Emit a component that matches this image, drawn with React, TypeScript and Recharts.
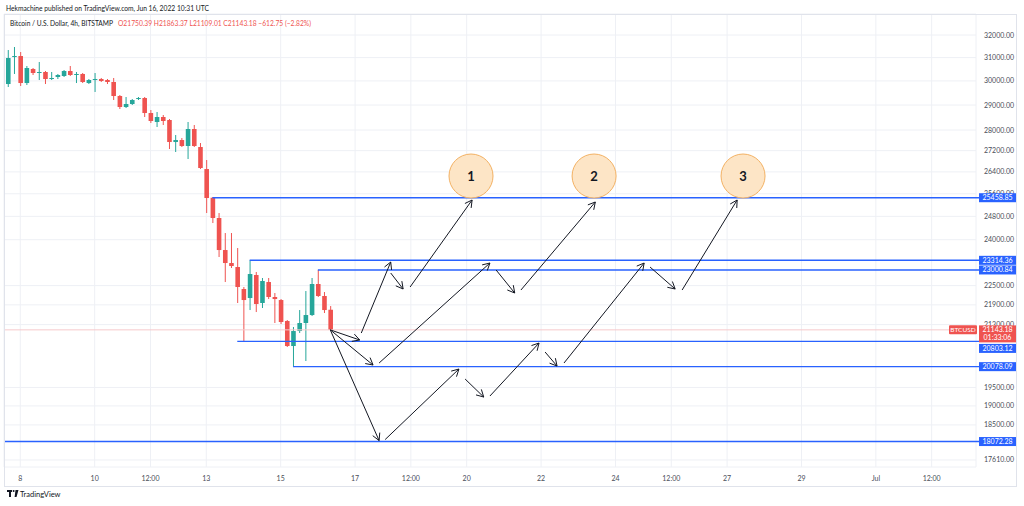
import React from 'react';
import {
  ComposedChart,
  Bar,
  XAxis,
  YAxis,
  CartesianGrid,
  ReferenceLine,
  ReferenceDot,
} from 'recharts';

// 4h candles, time in hours from Jun 8 00:00 UTC
const candleHours = [
  -8, -4, 0, 4, 8, 12, 16, 20, 24, 28, 32, 36, 40, 44, 48, 52, 56, 60, 64, 68,
  72, 76, 80, 84, 88, 92, 96, 100, 104, 108, 112, 116, 120, 124, 128, 132, 136,
  140, 144, 148, 152, 156, 160, 164, 168, 172, 176, 180, 184, 188, 192, 196, 200,
];
const opens = [
  29870, 31026, 31069, 29912, 30507, 30336, 30379, 30081, 30166, 30209, 30421,
  30251, 30294, 29912, 30039, 30081, 30039, 29955, 29371, 28920, 29043, 29247,
  29288, 28677, 28317, 28517, 28397, 27532, 27609, 27378, 28040, 27339, 26506,
  25458.85, 24743, 23654, 23226, 23096, 22393, 22111, 22838, 21957, 22614, 22143,
  22049, 21408, 20669, 21109, 21348, 21589, 22551, 22174, 21750.39,
];
const highs = [
  31332, 31465, 31244, 30636, 30550, 30809, 30421, 30379, 30294, 30464, 30636,
  30379, 30336, 30081, 30336, 30124, 30081, 30124, 29412, 29330, 29247, 29330,
  29330, 28798, 28718, 28597, 28437, 27804, 27687, 28317, 28198, 27493, 26844,
  25484, 24917, 24226, 24226, 23721, 22456, 23314.36, 22935, 22742, 22742, 22267,
  22080, 21438, 21228, 21741, 22330, 22742, 23000.84, 22298, 21863.37,
];
const lows = [
  29745, 30294, 29786, 29828, 30251, 30039, 29870, 30039, 30081, 30166, 30209,
  29912, 29912, 29870, 29537, 29955, 29870, 29206, 28839, 28879, 29002, 29206,
  28517, 28278, 28119, 28198, 27262, 27148, 27339, 26882, 27339, 26506, 24917,
  24569, 23423, 22614, 23064, 21957, 20803.12, 21741, 21680, 21803, 22080, 21348,
  21318, 20640, 20078.09, 21050, 20238, 21559, 22143, 21650, 21109.01,
];
const closes = [
  30982, 31069, 29912, 30550, 30336, 30379, 30081, 30124, 30251, 30421, 30251,
  30294, 29955, 30039, 30081, 29997, 29955, 29371, 28920, 29043, 29206, 29288,
  28677, 28357, 28517, 28357, 27532, 27609, 27378, 28040, 27378, 26544, 25448,
  24743, 23654, 23226, 23129, 22456, 22049, 22870, 21926, 22646, 22143, 22080,
  21378, 20669, 21109, 21348, 21589, 22551, 22174, 21741, 21143.18,
];

// price scale
const priceTicks = [
  32000, 31000, 30000, 29000, 28000, 27200, 26400, 25600, 24800, 24000, 22500,
  21900, 21300, 19500, 19000, 18500, 17610,
];

// time scale
const timeTickHours = [0, 48, 84, 120, 168, 216, 252, 288, 336, 384, 420, 456, 504, 552, 588];
const timeTickLabels = ['8', '10', '12:00', '13', '15', '17', '12:00', '20', '22', '24', '12:00', '27', '29', 'Jul', '12:00'];

// horizontal support / resistance levels
const levelPrices = [25458.85, 23314.36, 23000.84, 20803.12, 20078.09, 18072.28];
const levelStartHours = [124, 148, 192, 140, 176, -10.5];

const lastPrice = 21143.18;
const lastCountdown = '01:33:06';
const symbolName = 'BTCUSD';

// projected path arrows: [hour, price] -> [hour, price]
const arrowStarts = [
  [200, 21143.18], [220, 21050], [239, 22902], [251.5, 22456],
  [200, 21143.18], [231.5, 20181], [307, 22999], [323, 22361],
  [200, 21143.18], [235.4, 18123], [287, 19732], [303, 19266],
  [338.6, 20495], [350.8, 20181], [406.3, 23096], [427, 22361],
];
const arrowEnds = [
  [219, 20844], [239, 23259], [247, 22393], [291.5, 25377],
  [227.6, 20124], [303, 23226], [319, 22267], [371, 25306],
  [231.5, 18097], [283, 20011], [299, 19239], [334.7, 20756],
  [346.3, 20096], [402.5, 23226], [422.5, 22393], [462.5, 25377],
];

// numbered targets
const targetHours = [290.8, 370.2, 466.3];
const targetPrice = 26247;
const targetLabels = ['1', '2', '3'];

const X_DOMAIN = [-10.5, 616.6];
const Y_DOMAIN = [17437, 32959];

const UP = '#26a69a';
const DOWN = '#ef5350';
const BLUE = '#2962ff';
const TEXT = '#131722';
const FONT = 'Lato, "Open Sans", sans-serif';

const candles = candleHours.map((t, i) => ({
  t,
  o: opens[i],
  h: highs[i],
  l: lows[i],
  c: closes[i],
  range: [lows[i], highs[i]],
}));

const scaleLabels = [...levelPrices, lastPrice];

function CandleShape(props: any) {
  const { x, y, width, height, payload } = props;
  if (x == null || y == null) return null;
  const { o, h, l, c } = payload;
  const cx = x + width / 2;
  const span = Math.log(h) - Math.log(l);
  const yAt = (v: number) => (span > 0 ? y + (height * (Math.log(h) - Math.log(v))) / span : y);
  const yo = yAt(o);
  const yc = yAt(c);
  const top = Math.min(yo, yc);
  const bot = Math.max(yo, yc);
  const color = c >= o ? UP : DOWN;
  return (
    <g>
      <line x1={cx} x2={cx} y1={y} y2={y + height} stroke={color} strokeWidth={1} />
      <rect x={cx - 2.3} y={top} width={4.6} height={Math.max(bot - top, 1)} fill={color} />
    </g>
  );
}

function PriceTick(props: any) {
  const { y, payload } = props;
  return (
    <text x={984} y={y} dy={2.5} fontSize={7} fontFamily={FONT} fill="#4a4e59">
      {Number(payload.value).toFixed(2)}
    </text>
  );
}

// coloured boxes on the price scale for the levels and the last price
function ScaleLabel(props: any) {
  const { y, payload } = props;
  const v = Number(payload.value);
  const left = 979;
  if (v === lastPrice) {
    return (
      <g>
        <rect x={left - 30} y={y - 4.5} width={28} height={9} fill={DOWN} rx={1} />
        <text x={left - 16} y={y} dy={2.5} textAnchor="middle" fontSize={6.5} fontFamily={FONT} fill="#fff">
          {symbolName}
        </text>
        <rect x={left} y={y - 4.5} width={37} height={17} fill={DOWN} />
        <text x={left + 18.5} y={y} dy={2.5} textAnchor="middle" fontSize={7} fontFamily={FONT} fill="#fff">
          {lastPrice.toFixed(2)}
        </text>
        <text x={left + 18.5} y={y + 8} dy={2.5} textAnchor="middle" fontSize={7} fontFamily={FONT} fill="#fff">
          {lastCountdown}
        </text>
      </g>
    );
  }
  // the 20803.12 box is pushed below the last-price box
  const cy = v === 20803.12 ? y + 7 : y;
  return (
    <g>
      <rect x={left} y={cy - 4.5} width={37} height={9} fill={BLUE} />
      <text x={left + 18.5} y={cy} dy={2.5} textAnchor="middle" fontSize={7} fontFamily={FONT} fill="#fff">
        {v.toFixed(2)}
      </text>
    </g>
  );
}

const levelShape = (p: any) => {
  const right = Math.max(p.x1, p.x2);
  const left = Math.min(p.x1, p.x2);
  return <line x1={left} y1={p.y1} x2={right + 3} y2={p.y1} stroke={BLUE} strokeWidth={1.4} />;
};

const lastPriceShape = (p: any) => (
  <line
    x1={Math.min(p.x1, p.x2)}
    y1={p.y1}
    x2={Math.max(p.x1, p.x2)}
    y2={p.y1}
    stroke="#f6c9cb"
    strokeWidth={1}
  />
);

const arrowShape = (p: any) => {
  const { x1, y1, x2, y2 } = p;
  const ang = Math.atan2(y2 - y1, x2 - x1);
  const len = 8;
  const spread = 0.5;
  const ax = x2 - len * Math.cos(ang - spread);
  const ay = y2 - len * Math.sin(ang - spread);
  const bx = x2 - len * Math.cos(ang + spread);
  const by = y2 - len * Math.sin(ang + spread);
  return (
    <g>
      <line x1={x1} y1={y1} x2={x2} y2={y2} stroke={TEXT} strokeWidth={1} />
      <polyline points={`${ax},${ay} ${x2},${y2} ${bx},${by}`} fill="none" stroke={TEXT} strokeWidth={1} />
    </g>
  );
};

const targetShape = (label: string) => (p: any) => (
  <g>
    <circle cx={p.cx} cy={p.cy} r={22} fill="#fde5c6" stroke="#f3b163" strokeWidth={1} />
    <text
      x={p.cx}
      y={p.cy}
      dy={4.5}
      textAnchor="middle"
      fontSize={13}
      fontWeight="bold"
      fontFamily={FONT}
      fill={TEXT}
    >
      {label}
    </text>
  </g>
);

export default function App() {
  return (
    <div style={{ position: 'absolute', left: 0, top: 0, width: 1024, height: 506, background: '#fff' }}>
      <ComposedChart
        width={1024}
        height={506}
        data={candles}
        margin={{ top: 14, right: 7, bottom: 19, left: 4 }}
      >
        <CartesianGrid stroke="#eef0f5" strokeWidth={1} />
        <XAxis
          type="number"
          dataKey="t"
          domain={X_DOMAIN}
          allowDataOverflow
          ticks={timeTickHours}
          tick={<TimeTick />}
          axisLine={false}
          tickLine={false}
          height={20}
          interval={0}
        />
        <YAxis
          orientation="right"
          type="number"
          scale="log"
          domain={Y_DOMAIN}
          allowDataOverflow
          ticks={priceTicks}
          tick={<PriceTick />}
          axisLine={false}
          tickLine={false}
          width={40}
          interval={0}
        />
        <YAxis
          yAxisId="labels"
          orientation="right"
          type="number"
          scale="log"
          domain={Y_DOMAIN}
          allowDataOverflow
          ticks={scaleLabels}
          tick={<ScaleLabel />}
          axisLine={false}
          tickLine={false}
          width={1}
          interval={0}
        />
        <ReferenceLine y={lastPrice} ifOverflow="visible" shape={lastPriceShape} />
        <Bar dataKey="range" barSize={5} shape={<CandleShape />} isAnimationActive={false} />
        {levelPrices.map((price, i) => (
          <ReferenceLine
            key={`lvl-${i}`}
            ifOverflow="visible"
            segment={[
              { x: levelStartHours[i], y: price },
              { x: X_DOMAIN[1], y: price },
            ]}
            shape={levelShape}
          />
        ))}
        {arrowStarts.map((s, i) => (
          <ReferenceLine
            key={`arr-${i}`}
            ifOverflow="visible"
            segment={[
              { x: s[0], y: s[1] },
              { x: arrowEnds[i][0], y: arrowEnds[i][1] },
            ]}
            shape={arrowShape}
          />
        ))}
        {targetHours.map((h, i) => (
          <ReferenceDot
            key={`tgt-${i}`}
            x={h}
            y={targetPrice}
            r={22}
            ifOverflow="visible"
            shape={targetShape(targetLabels[i])}
          />
        ))}
      </ComposedChart>
      <svg
        width={1024}
        height={506}
        style={{ position: 'absolute', left: 0, top: 0, pointerEvents: 'none' }}
      >
        <rect x={4.5} y={14.5} width={1012} height={472} fill="none" stroke="#e0e3eb" />
        <text x={6} y={10.5} fontSize={7.5} fontFamily={FONT} fill={TEXT} textLength={203} lengthAdjust="spacingAndGlyphs">
          Hekmachine published on TradingView.com, Jun 16, 2022 10:31 UTC
        </text>
        <text x={10} y={25.5} fontSize={7.5} fontFamily={FONT} fill={TEXT} textLength={103} lengthAdjust="spacingAndGlyphs">
          Bitcoin / U.S. Dollar, 4h, BITSTAMP
        </text>
        <text x={118} y={25.5} fontSize={7.5} fontFamily={FONT} fill={DOWN} textLength={193} lengthAdjust="spacingAndGlyphs">
          O21750.39  H21863.37  L21109.01  C21143.18  −612.75 (−2.82%)
        </text>
        <g fill={TEXT}>
          <rect x={7} y={490} width={5} height={2} />
          <rect x={9} y={490} width={2} height={7} />
          <circle cx={13.6} cy={491} r={1} />
          <polygon points="15.5,490 18.5,490 16.5,497 14.6,497" />
        </g>
        <text x={20} y={497} fontSize={7.5} fontFamily={FONT} fill={TEXT}>
          TradingView
        </text>
      </svg>
    </div>
  );
}

function TimeTick(props: any) {
  const { x, payload } = props;
  const idx = timeTickHours.indexOf(payload.value);
  return (
    <text x={x} y={478} dy={2.5} textAnchor="middle" fontSize={7} fontFamily={FONT} fill="#4a4e59">
      {idx >= 0 ? timeTickLabels[idx] : ''}
    </text>
  );
}
